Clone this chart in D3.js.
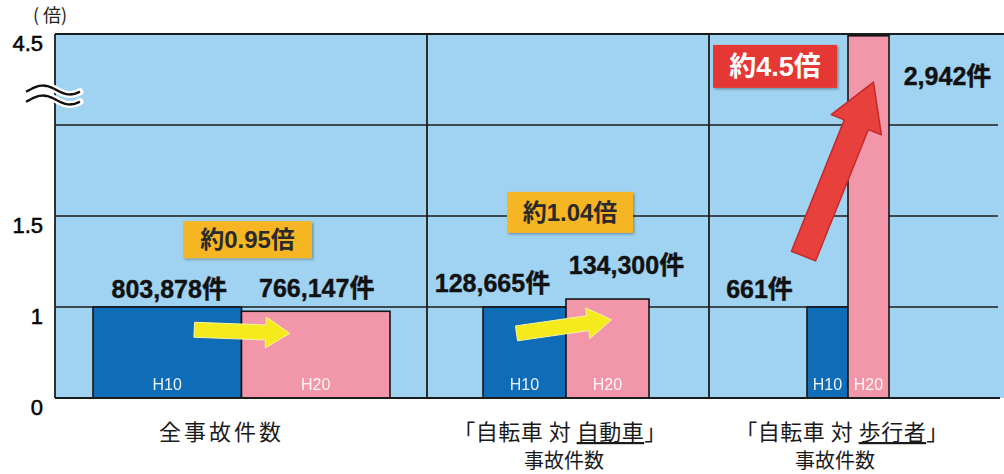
<!DOCTYPE html>
<html>
<head>
<meta charset="utf-8">
<script src="https://cdn.jsdelivr.net/npm/d3@7"></script>
<style>
    body { margin: 0; background: #fff; }
    svg text { font-family: "Liberation Sans", "Noto Sans CJK JP", sans-serif; }
    .jp { font-family: "Noto Sans CJK JP", sans-serif; }
</style>
</head>
<body>
<div id="chart"></div>
<script>
// data
const years = ["H10", "H20"];
const countsH10 = [803878, 128665, 661];
const countsH20 = [766147, 134300, 2942];
const ratioLabels = ["約0.95倍", "約1.04倍", "約4.5倍"];
const categoryLine1 = ["全事故件数", "「自転車 対 自動車」", "「自転車 対 歩行者」"];
const categoryLine2 = ["", "事故件数", "事故件数"];
const underlined = ["", "自動車", "歩行者"];
const yTicks = [0, 1, 1.5, 4.5];
const yTickLabels = ["0", "1", "1.5", "4.5"];
const gridValues = [1, 1.5, 2, 4.5];
const breakDomain = [0, 1, 1.5, 2, 4.5];   // broken axis, each band gets equal height

// layout (annotation placement, not data)
const panelWidths = [372, 282, 295];
const barSpans = [[38, 335], [56, 222], [98, 180]];
const labelOffsets = [[[2, -9], [1, -14]], [[-32, -15], [19, -25]], [[-68, -9], [79, 49]]];
const calloutDx = [6, 4, -73];
const calloutAt = [1.37, 1.52, 3.61];
const calloutSize = [[129, 37], [126, 41], [124, 43]];
const calloutFill = ["#f6b523", "#f6b523", "#e53935"];
const calloutText = ["#2a2a2a", "#2a2a2a", "#ffffff"];
const arrowDx = [[27, -26], [-8, 4], [-24, 5]];
const arrowAt = [[0.75, 0.71], [0.71, 0.86], [1.28, 3.18]];
const catDx = [[-20, 0], [-6, -2], [-6, -13]];

const margin = {top: 34, right: 0, bottom: 76, left: 55};
const width = 1004 - margin.left - margin.right;
const height = 474 - margin.top - margin.bottom;

const svg = d3.select("#chart").append("svg")
    .attr("width", 1004)
    .attr("height", 474);

// y scale: piecewise linear over the break
const yScale = d3.scaleLinear()
    .domain(breakDomain)
    .range(breakDomain.map((d, i) => height * (1 - i / (breakDomain.length - 1))))
    .clamp(true);

const g = svg.append("g").attr("transform", `translate(${margin.left},${margin.top})`);

// plot background
g.append("rect")
    .attr("width", width)
    .attr("height", height)
    .attr("fill", "#9fd3f1");

const panelEdges = [0];
panelWidths.forEach(w => panelEdges.push(panelEdges[panelEdges.length - 1] + w));

// gridlines
g.selectAll(".grid")
    .data(gridValues)
    .enter().append("line")
    .attr("x1", 0)
    .attr("x2", d => d === 4.5 ? width : width - 6)
    .attr("y1", d => yScale(d))
    .attr("y2", d => yScale(d))
    .attr("stroke", "#1c1c1c")
    .attr("stroke-width", 1.6);

// bars
const panels = countsH10.map((c, i) => {
    const ratios = [1, countsH20[i] / countsH10[i]];
    const x = d3.scaleBand()
        .domain(years)
        .range([panelEdges[i] + barSpans[i][0], panelEdges[i] + barSpans[i][1]]);
    return {i, ratios, counts: [countsH10[i], countsH20[i]], x};
});

panels.forEach(p => {
    g.selectAll(".bar" + p.i)
        .data(years)
        .enter().append("rect")
        .attr("x", d => p.x(d))
        .attr("y", (d, j) => yScale(p.ratios[j]))
        .attr("width", p.x.bandwidth())
        .attr("height", (d, j) => height - yScale(p.ratios[j]))
        .attr("fill", (d, j) => j === 0 ? "#0f6cb6" : "#f296aa")
        .attr("stroke", "#161616")
        .attr("stroke-width", 1.6);

    g.selectAll(".yr" + p.i)
        .data(years)
        .enter().append("text")
        .text(d => d)
        .attr("x", d => p.x(d) + p.x.bandwidth() / 2)
        .attr("y", height - 8)
        .attr("text-anchor", "middle")
        .attr("fill", "#fff")
        .attr("opacity", 0.92)
        .style("font-size", "16px");

    // count labels
    g.selectAll(".cnt" + p.i)
        .data(years)
        .enter().append("text")
        .text((d, j) => d3.format(",")(p.counts[j]) + "件")
        .attr("x", (d, j) => p.x(d) + p.x.bandwidth() / 2 + labelOffsets[p.i][j][0])
        .attr("y", (d, j) => yScale(p.ratios[j]) + labelOffsets[p.i][j][1])
        .attr("text-anchor", "middle")
        .attr("fill", "#111")
        .attr("stroke", "#111")
        .attr("stroke-width", 0.4)
        .style("font-size", "25px")
        .style("font-weight", "bold");
});

// frame lines
g.append("line").attr("x1", 0).attr("x2", width).attr("y1", 0).attr("y2", 0)
    .attr("stroke", "#1c1c1c").attr("stroke-width", 1.8);
g.append("line").attr("x1", 0).attr("x2", width - 4).attr("y1", height).attr("y2", height)
    .attr("stroke", "#1c1c1c").attr("stroke-width", 1.8);
g.selectAll(".divider")
    .data(panelEdges.slice(0, 3))
    .enter().append("line")
    .attr("x1", d => d).attr("x2", d => d)
    .attr("y1", 0).attr("y2", height)
    .attr("stroke", "#1c1c1c")
    .attr("stroke-width", 1.8);

// arrows
function arrowPath(x1, y1, x2, y2, sw, hw, hl) {
    const dx = x2 - x1, dy = y2 - y1, len = Math.hypot(dx, dy);
    const ux = dx / len, uy = dy / len, nx = -uy, ny = ux;
    const bx = x2 - ux * hl, by = y2 - uy * hl;
    const pts = [
        [x1 + nx * sw / 2, y1 + ny * sw / 2],
        [bx + nx * sw / 2, by + ny * sw / 2],
        [bx + nx * hw / 2, by + ny * hw / 2],
        [x2, y2],
        [bx - nx * hw / 2, by - ny * hw / 2],
        [bx - nx * sw / 2, by - ny * sw / 2],
        [x1 - nx * sw / 2, y1 - ny * sw / 2]
    ];
    return d3.line()(pts) + "Z";
}

panels.forEach(p => {
    const cx0 = p.x("H10") + p.x.bandwidth() / 2 + arrowDx[p.i][0];
    const cx1 = p.x("H20") + p.x.bandwidth() / 2 + arrowDx[p.i][1];
    const y0 = yScale(arrowAt[p.i][0]);
    const y1 = yScale(arrowAt[p.i][1]);
    const big = p.i === 2;
    g.append("path")
        .attr("d", big ? arrowPath(cx0, y0, cx1, y1, 26, 54, 46) : arrowPath(cx0, y0, cx1, y1, 15, 31, 24))
        .attr("fill", big ? "#e8403c" : "#f4ea1c")
        .attr("stroke", big ? "#c42a2a" : "#fbf5a0")
        .attr("stroke-width", big ? 1.5 : 1)
        .attr("stroke-linejoin", "round");
});

// callout boxes
const defs = svg.append("defs");
defs.append("filter").attr("id", "shadow")
    .append("feDropShadow")
    .attr("dx", 1.5).attr("dy", 1.5).attr("stdDeviation", 1.2)
    .attr("flood-color", "#000").attr("flood-opacity", 0.3);

panels.forEach(p => {
    const cx = (p.x.range()[0] + p.x.range()[1]) / 2 + calloutDx[p.i];
    const cy = yScale(calloutAt[p.i]);
    const [w, h] = calloutSize[p.i];
    g.append("rect")
        .attr("x", cx - w / 2).attr("y", cy - h / 2)
        .attr("width", w).attr("height", h)
        .attr("fill", calloutFill[p.i])
        .attr("filter", "url(#shadow)");
    g.append("text")
        .text(ratioLabels[p.i])
        .attr("x", cx).attr("y", cy)
        .attr("dy", "0.36em")
        .attr("text-anchor", "middle")
        .attr("fill", calloutText[p.i])
        .style("font-size", p.i === 2 ? "27px" : "24px")
        .style("font-weight", "bold");
});

// y axis labels
g.selectAll(".ytick")
    .data(yTicks)
    .enter().append("text")
    .text((d, i) => yTickLabels[i])
    .attr("x", -12)
    .attr("y", d => yScale(d) + 17)
    .attr("text-anchor", "end")
    .attr("fill", "#000")
    .attr("stroke", "#000")
    .attr("stroke-width", 0.5)
    .style("font-size", "22px");

svg.append("text")
    .text("( 倍)")
    .attr("x", 50).attr("y", 22)
    .attr("text-anchor", "middle")
    .attr("class", "jp")
    .attr("fill", "#222")
    .style("font-size", "18px");

// axis break symbol
const wave = (y0) => d3.range(0, 1.0001, 0.05).map(t => [26 + t * 54, y0 - 4.5 * Math.sin(t * Math.PI * 2 - 0.4)]);
[90, 100].forEach(y0 => {
    svg.append("path").attr("d", d3.line().curve(d3.curveBasis)(wave(y0)))
        .attr("fill", "none").attr("stroke", "#fff").attr("stroke-width", 7).attr("stroke-linecap", "round");
});
[90, 100].forEach(y0 => {
    svg.append("path").attr("d", d3.line().curve(d3.curveBasis)(wave(y0)))
        .attr("fill", "none").attr("stroke", "#111").attr("stroke-width", 2.4);
});

// category labels
panels.forEach(p => {
    const cx = (p.x.range()[0] + p.x.range()[1]) / 2;
    const t = g.append("text")
        .attr("x", cx + catDx[p.i][0])
        .attr("y", height + 42)
        .attr("text-anchor", "middle")
        .attr("class", "jp")
        .attr("fill", "#1a1a1a")
        .style("font-size", "22px")
        .style("letter-spacing", p.i === 0 ? "3px" : "0.5px");
    const line = categoryLine1[p.i];
    const u = underlined[p.i];
    if (u) {
        const k = line.indexOf(u);
        t.append("tspan").text(line.slice(0, k));
        t.append("tspan").text(u).style("text-decoration", "underline");
        t.append("tspan").text(line.slice(k + u.length));
    } else {
        t.text(line);
    }
    if (categoryLine2[p.i]) {
        g.append("text")
            .text(categoryLine2[p.i])
            .attr("x", cx + catDx[p.i][1])
            .attr("y", height + 70)
            .attr("text-anchor", "middle")
            .attr("class", "jp")
            .attr("fill", "#1a1a1a")
            .style("font-size", "20px");
    }
});
</script>
</body>
</html>
